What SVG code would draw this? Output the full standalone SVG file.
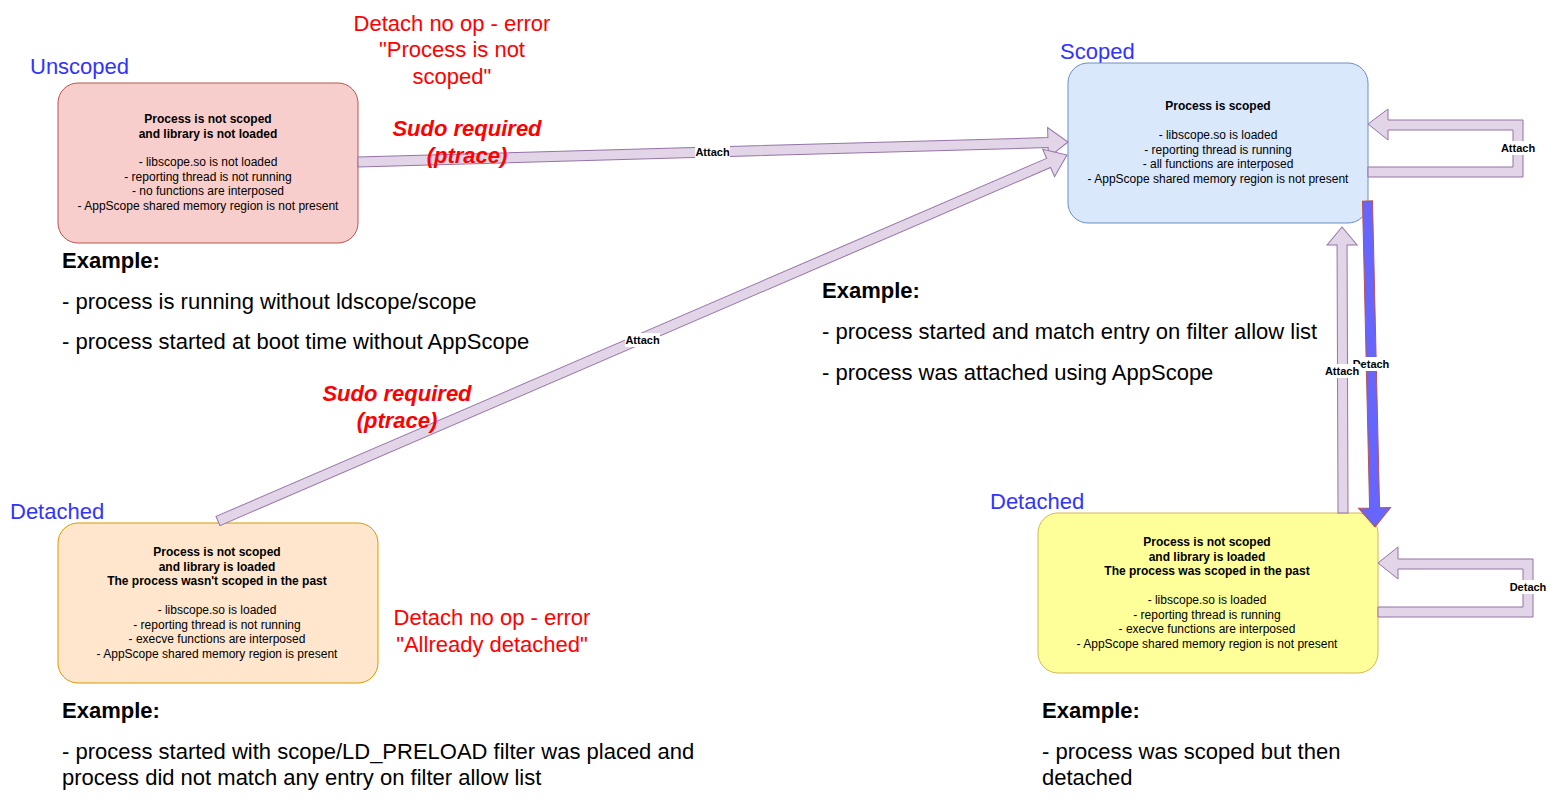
<svg xmlns="http://www.w3.org/2000/svg" width="1557" height="803" viewBox="0 0 1557 803">
<style>
text{font-family:"Liberation Sans",Arial,sans-serif}
.nt{font-size:12px;text-anchor:middle;fill:#000}
.b{font-weight:bold}
.st{font-size:22px;fill:#3333ff}
.red{font-size:22px;fill:#ff0000;text-anchor:middle}
.sudo{font-size:22px;fill:#ff0000;text-anchor:middle;font-weight:bold;font-style:italic}
.ex{font-size:22px;fill:#000}
.flex{fill:#e1d5e7;stroke:#9673a6;stroke-width:1}
.blue{fill:#6666ff;stroke:#b85450;stroke-width:1}
.lbl{font-size:11px;font-weight:bold;text-anchor:middle;fill:#000}
.lbg{fill:#fff}
</style>

<g id="unscoped">
  <text class="st" x="30" y="74">Unscoped</text>
  <rect x="58" y="83" width="300" height="160" rx="20" fill="#f8cecc" stroke="#b85450"/>
  <text class="nt b" x="208" y="123">Process is not scoped</text>
  <text class="nt b" x="208" y="137.5">and library is not loaded</text>
  <text class="nt" x="208" y="166">- libscope.so is not loaded</text>
  <text class="nt" x="208" y="180.5">- reporting thread is not running</text>
  <text class="nt" x="208" y="195">- no functions are interposed</text>
  <text class="nt" x="208" y="209.5">- AppScope shared memory region is not present</text>
</g>

<g id="scoped">
  <text class="st" x="1060" y="59">Scoped</text>
  <rect x="1068" y="63" width="300" height="160" rx="20" fill="#dae8fc" stroke="#6c8ebf"/>
  <text class="nt b" x="1218" y="110">Process is scoped</text>
  <text class="nt" x="1218" y="139">- libscope.so is loaded</text>
  <text class="nt" x="1218" y="153.5">- reporting thread is running</text>
  <text class="nt" x="1218" y="168">- all functions are interposed</text>
  <text class="nt" x="1218" y="182.5">- AppScope shared memory region is not present</text>
</g>

<g id="detached-left">
  <text class="st" x="10" y="519">Detached</text>
  <rect x="58" y="523" width="320" height="160" rx="20" fill="#ffe6cc" stroke="#d79b00"/>
  <text class="nt b" x="217" y="556">Process is not scoped</text>
  <text class="nt b" x="217" y="570.5">and library is loaded</text>
  <text class="nt b" x="217" y="585">The process wasn't scoped in the past</text>
  <text class="nt" x="217" y="614">- libscope.so is loaded</text>
  <text class="nt" x="217" y="628.5">- reporting thread is not running</text>
  <text class="nt" x="217" y="643">- execve functions are interposed</text>
  <text class="nt" x="217" y="657.5">- AppScope shared memory region is present</text>
</g>

<g id="detached-right">
  <text class="st" x="990" y="509">Detached</text>
  <rect x="1038" y="513" width="340" height="160" rx="20" fill="#ffff99" stroke="#d6b656"/>
  <text class="nt b" x="1207" y="546">Process is not scoped</text>
  <text class="nt b" x="1207" y="560.5">and library is loaded</text>
  <text class="nt b" x="1207" y="575">The process was scoped in the past</text>
  <text class="nt" x="1207" y="604">- libscope.so is loaded</text>
  <text class="nt" x="1207" y="618.5">- reporting thread is running</text>
  <text class="nt" x="1207" y="633">- execve functions are interposed</text>
  <text class="nt" x="1207" y="647.5">- AppScope shared memory region is not present</text>
</g>

<g id="notes">
  <text class="red" x="452" y="31">Detach no op - error</text>
  <text class="red" x="452" y="57">"Process is not</text>
  <text class="red" x="452" y="84">scoped"</text>
  <text class="red" x="492" y="625">Detach no op - error</text>
  <text class="red" x="492" y="652">"Allready detached"</text>
</g>

<g id="examples">
  <text class="ex b" x="62" y="268">Example:</text>
  <text class="ex" x="62" y="309">- process is running without ldscope/scope</text>
  <text class="ex" x="62" y="349">- process started at boot time without AppScope</text>
  <text class="ex b" x="822" y="298">Example:</text>
  <text class="ex" x="822" y="339">- process started and match entry on filter allow list</text>
  <text class="ex" x="822" y="380">- process was attached using AppScope</text>
  <text class="ex b" x="62" y="718">Example:</text>
  <text class="ex" x="62" y="759">- process started with scope/LD_PRELOAD filter was placed and</text>
  <text class="ex" x="62" y="785">process did not match any entry on filter allow list</text>
  <text class="ex b" x="1042" y="718">Example:</text>
  <text class="ex" x="1042" y="759">- process was scoped but then</text>
  <text class="ex" x="1042" y="785">detached</text>
</g>

<g id="connectors">
  <g id="e-unscoped-scoped">
    <polygon class="flex" transform="translate(358,162) rotate(-1.6135)" points="0,-5 690.3,-5 690.3,-15 710.3,0 690.3,15 690.3,5 0,5"/>
  </g>
  <g id="e-detached-scoped">
    <polygon class="flex" transform="translate(218,521) rotate(-23.32)" points="0,-5 904.5,-5 904.5,-15 924.5,0 904.5,15 904.5,5 0,5"/>
  </g>
  <g id="e-scoped-loop">
    <polygon class="flex" points="1368,167 1513,167 1513,130 1388,130 1388,140 1368,124 1388,109 1388,120 1523,120 1523,177 1368,177"/>
  </g>
  <g id="e-detached2-loop">
    <polygon class="flex" points="1378,607 1523,607 1523,569 1398,569 1398,579 1378,563 1398,547 1398,559 1533,559 1533,617 1378,617"/>
  </g>
  <g id="e-detached2-scoped">
    <polygon class="flex" transform="translate(1343,513) rotate(-90.2)" points="0,-5 268,-5 268,-15 286,0 268,15 268,5 0,5"/>
  </g>
  <g id="e-scoped-detached2">
    <polygon class="blue" transform="translate(1367.5,201) rotate(88.68)" points="0,-5 307,-5 307,-16 326,0 307,16 307,5 0,5"/>
  </g>
  <g id="edge-labels">
    <rect class="lbg" x="695" y="145" width="35" height="14"/>
    <text class="lbl" x="712.5" y="156">Attach</text>
    <rect class="lbg" x="625" y="333" width="35" height="14"/>
    <text class="lbl" x="642.5" y="344">Attach</text>
    <rect class="lbg" x="1500" y="141" width="36" height="14"/>
    <text class="lbl" x="1518" y="152">Attach</text>
    <rect class="lbg" x="1510" y="580" width="37" height="14"/>
    <text class="lbl" x="1528" y="591">Detach</text>
    <rect class="lbg" x="1353" y="357" width="37" height="14"/>
    <text class="lbl" x="1371" y="368">Detach</text>
    <rect class="lbg" x="1324" y="364" width="36" height="14"/>
    <text class="lbl" x="1342" y="375">Attach</text>
  </g>
</g>

<g id="sudo-notes">
  <text class="sudo" x="467" y="136">Sudo required</text>
  <text class="sudo" x="467" y="163">(ptrace)</text>
  <text class="sudo" x="397" y="401">Sudo required</text>
  <text class="sudo" x="397" y="428">(ptrace)</text>
</g>
</svg>
